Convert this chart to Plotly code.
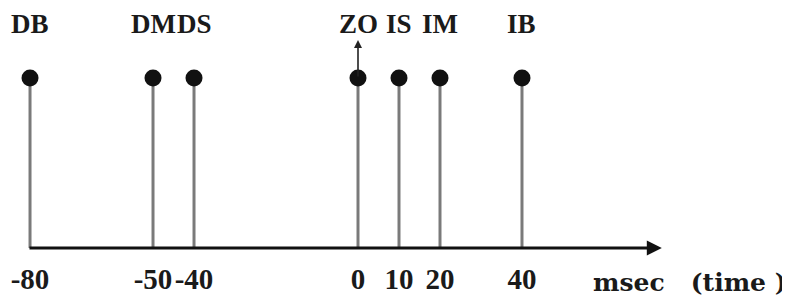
import plotly.graph_objects as go

# ---- data ----
event_labels = ["DB", "DM", "DS", "ZO", "IS", "IM", "IB"]
event_times = [-80, -50, -40, 0, 10, 20, 40]
event_heights = [1, 1, 1, 1, 1, 1, 1]
tick_values = [-80, -50, -40, 0, 10, 20, 40]
tick_labels = ["-80", "-50", "-40", "0", "10", "20", "40"]
axis_label = "msec&nbsp;&nbsp;&nbsp;(time&nbsp;)"

SERIF = "Liberation Serif, Times New Roman, serif"
WIDE_SERIF = "DejaVu Serif, serif"

fig = go.Figure()

# stems (drawn as downward error bars to the time axis) + dots
fig.add_trace(go.Scatter(
    x=event_times,
    y=event_heights,
    mode="markers",
    marker=dict(size=17, color="#111111"),
    error_y=dict(type="data", symmetric=False,
                 array=[0] * len(event_heights),
                 arrayminus=event_heights,
                 thickness=3, width=0, color="#7a7a7a"),
    hoverinfo="skip",
    showlegend=False,
))

annotations = []
# event labels above the dots
for lab, t in zip(event_labels, event_times):
    annotations.append(dict(
        x=t, y=1.3176, xref="x", yref="y", text=lab, showarrow=False,
        font=dict(family=SERIF, size=27, color="#1a1a1a", weight="bold"),
    ))

# time axis arrow
annotations.append(dict(
    x=74.1, y=0, ax=-80.5, ay=0, xref="x", yref="y", axref="x", ayref="y",
    text="", showarrow=True, arrowhead=2, arrowsize=1, arrowwidth=3,
    arrowcolor="#111111", standoff=0, startstandoff=0,
))
# small vertical arrow at ZO
annotations.append(dict(
    x=0, y=1.2235, ax=0, ay=1, xref="x", yref="y", axref="x", ayref="y",
    text="", showarrow=True, arrowhead=2, arrowsize=1, arrowwidth=1.6,
    arrowcolor="#222222", standoff=0, startstandoff=0,
))
# axis unit label
annotations.append(dict(
    x=80.98, y=-0.142, xref="x", yref="paper", yanchor="middle",
    text=axis_label, showarrow=False,
    font=dict(family=WIDE_SERIF, size=25, color="#1a1a1a", weight="bold"),
))

fig.update_layout(
    width=782, height=290,
    margin=dict(l=0, r=0, t=0, b=50),
    paper_bgcolor="white", plot_bgcolor="white",
    annotations=annotations,
    xaxis=dict(
        range=[-85.37, 105.37],
        tickvals=tick_values, ticktext=tick_labels, tickangle=0,
        ticks="", showgrid=False, zeroline=False, showline=False,
        ticklabelstandoff=11,
        tickfont=dict(family=SERIF, size=29, color="#1a1a1a", weight="bold"),
        fixedrange=True,
    ),
    yaxis=dict(
        range=[0, 1.4118], visible=False, fixedrange=True,
    ),
)

fig.write_html("out.html")
